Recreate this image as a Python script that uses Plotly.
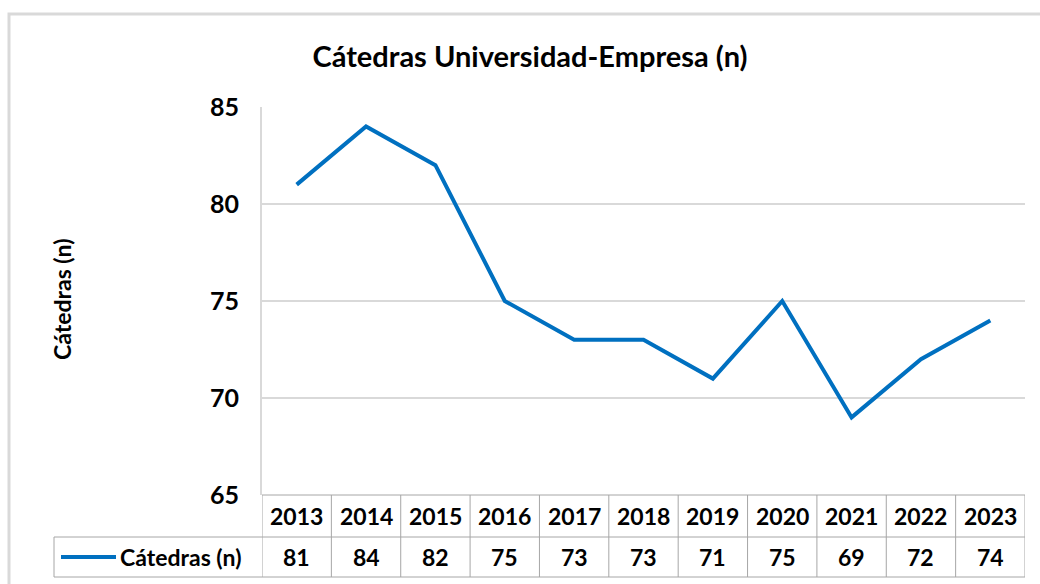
import plotly.graph_objects as go

years = ["2013", "2014", "2015", "2016", "2017", "2018", "2019", "2020", "2021", "2022", "2023"]
catedras = [81, 84, 82, 75, 73, 73, 71, 75, 69, 72, 74]
series_name = "Cátedras (n)"
title_text = "Cátedras Universidad-Empresa (n)"
y_ticks = [65, 70, 75, 80, 85]

LINE_BLUE = "#0070C0"
GRID = "#d9d9d9"
TABLE_LINE = "#a6a6a6"
FONT = "Lato"

fig = go.Figure()
fig.add_trace(
    go.Scatter(
        x=list(range(len(years))),
        y=catedras,
        mode="lines",
        line=dict(color=LINE_BLUE, width=4),
        name=series_name,
        showlegend=False,
    )
)

# plot area in pixels: x 262..1025, y 107..495
L, R, T, B = 262, 1025, 107, 495
W, H = R - L, B - T


def px(xp):
    return (xp - L) / W


def py(yp):
    return (B - yp) / H


row1_bot = 537
row2_bot = 577
legend_left = 54

shapes = []
# outer chart frame
shapes.append(dict(type="rect", xref="paper", yref="paper",
                   x0=px(9), x1=px(1060), y0=py(600), y1=py(14),
                   line=dict(color=GRID, width=3)))
# data table horizontal lines
shapes.append(dict(type="line", xref="paper", yref="paper",
                   x0=px(legend_left), x1=1, y0=py(row1_bot), y1=py(row1_bot),
                   line=dict(color=TABLE_LINE, width=1)))
shapes.append(dict(type="line", xref="paper", yref="paper",
                   x0=px(legend_left), x1=1, y0=py(row2_bot), y1=py(row2_bot),
                   line=dict(color=TABLE_LINE, width=1)))
shapes.append(dict(type="line", xref="paper", yref="paper",
                   x0=0, x1=1, y0=0, y1=0,
                   line=dict(color=TABLE_LINE, width=1)))
# vertical table lines at category boundaries
for i in range(len(years) + 1):
    shapes.append(dict(type="line", xref="x", yref="paper",
                       x0=i - 0.5, x1=i - 0.5, y0=0, y1=py(row2_bot),
                       line=dict(color=TABLE_LINE, width=1)))
shapes.append(dict(type="line", xref="paper", yref="paper",
                   x0=px(legend_left), x1=px(legend_left), y0=py(row1_bot), y1=py(row2_bot),
                   line=dict(color=TABLE_LINE, width=1)))
# legend key line
shapes.append(dict(type="line", xref="paper", yref="paper",
                   x0=px(61), x1=px(116), y0=py(557), y1=py(557),
                   line=dict(color=LINE_BLUE, width=4)))

cell_font = dict(family=FONT, size=23, color="#000000", weight="bold")
annotations = []
for i, (yr, v) in enumerate(zip(years, catedras)):
    annotations.append(dict(x=i, y=py((B + row1_bot) / 2), xref="x", yref="paper",
                            xanchor="center", yanchor="middle",
                            text=yr, showarrow=False, font=cell_font))
    annotations.append(dict(x=i, y=py((row1_bot + row2_bot) / 2), xref="x", yref="paper",
                            xanchor="center", yanchor="middle",
                            text=str(v), showarrow=False, font=cell_font))
annotations.append(dict(x=px(118), y=py((row1_bot + row2_bot) / 2), xref="paper", yref="paper",
                        xanchor="left", yanchor="middle",
                        text=series_name, showarrow=False, font=cell_font))
annotations.append(dict(x=px(62), y=py(300), xref="paper", yref="paper",
                        xanchor="center", yanchor="middle",
                        text="Cátedras (n)", textangle=-90, showarrow=False,
                        font=dict(family=FONT, size=23, color="#000000", weight="bold")))

fig.update_layout(
    width=1040,
    height=584,
    margin=dict(l=L, r=1040 - R, t=T, b=584 - B),
    paper_bgcolor="white",
    plot_bgcolor="white",
    title=dict(text=title_text, x=530 / 1040, xanchor="center", y=1 - 57 / 584, yanchor="middle",
               font=dict(family=FONT, size=29, color="#000000", weight="bold")),
    xaxis=dict(range=[-0.5, len(years) - 0.5], showticklabels=False, showgrid=False,
               zeroline=False, showline=False, ticks=""),
    yaxis=dict(range=[65, 85], tickvals=y_ticks, showgrid=True, gridcolor=GRID, gridwidth=2,
               zeroline=False, showline=True, linecolor=GRID, linewidth=2, ticks="",
               ticklabelstandoff=16,
               tickfont=dict(family=FONT, size=25, color="#000000", weight="bold")),
    shapes=shapes,
    annotations=annotations,
)

fig.write_html("out.html", config={"displayModeBar": False},
               post_script="document.body.style.margin='0px';")
